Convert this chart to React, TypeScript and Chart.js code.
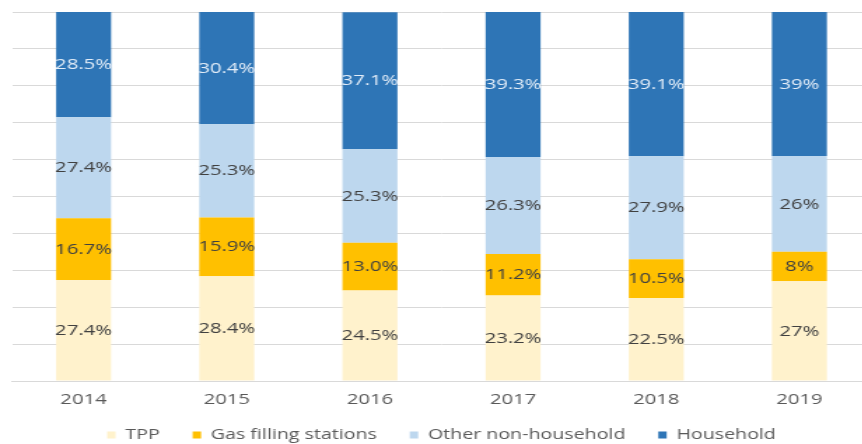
import React, { useEffect, useRef } from "react";
import { Chart, registerables } from "chart.js";

Chart.register(...registerables);

const years = ["2014", "2015", "2016", "2017", "2018", "2019"];
const seriesNames = ["TPP", "Gas filling stations", "Other non-household", "Household"];
const tpp = [27.4, 28.4, 24.5, 23.2, 22.5, 27];
const gasStations = [16.7, 15.9, 13.0, 11.2, 10.5, 8];
const otherNonHousehold = [27.4, 25.3, 25.3, 26.3, 27.9, 26];
const household = [28.5, 30.4, 37.1, 39.3, 39.1, 39];
const labelDecimals = [1, 1, 1, 1, 1, 0];
const yMin = 0;
const yMax = 100;
const yStep = 10;

const seriesColors = ["#FFF2CC", "#FFC000", "#BDD7EE", "#2E75B6"];
const labelColors = ["#404040", "#404040", "#404040", "#E3EDF8"];

const SX = 1.4;
const CANVAS_W = 630;
const CANVAS_H = 444;
const FONT = '"Open Sans", "DejaVu Sans", sans-serif';

const valueLabels = {
  id: "valueLabels",
  afterDatasetsDraw(chart: any) {
    const ctx = chart.ctx;
    ctx.save();
    ctx.font = `14.5px ${FONT}`;
    ctx.textAlign = "center";
    ctx.textBaseline = "middle";
    chart.data.datasets.forEach((ds: any, di: number) => {
      const meta = chart.getDatasetMeta(di);
      meta.data.forEach((bar: any, i: number) => {
        const v = ds.data[i] as number;
        const { x, y, base } = bar.getProps(["x", "y", "base"], true);
        ctx.fillStyle = labelColors[di];
        ctx.fillText(v.toFixed(labelDecimals[i]) + "%", x, (y + base) / 2 + 0.5);
      });
    });
    ctx.restore();
  },
};

export default function App() {
  const ref = useRef<HTMLCanvasElement | null>(null);

  useEffect(() => {
    if (!ref.current) return;
    const seriesData = [tpp, gasStations, otherNonHousehold, household];
    const chart = new Chart(ref.current, {
      type: "bar",
      data: {
        labels: years,
        datasets: seriesNames.map((name, i) => ({
          label: name,
          data: seriesData[i],
          backgroundColor: seriesColors[i],
          borderWidth: 0,
          barPercentage: 1,
          categoryPercentage: 0.384,
        })),
      },
      options: {
        animation: false,
        responsive: false,
        devicePixelRatio: 1,
        layout: {
          padding: { top: 12, left: 12 / SX, right: CANVAS_W - 871 / SX, bottom: -8 },
        },
        plugins: {
          tooltip: { enabled: false },
          legend: {
            position: "bottom",
            labels: {
              color: "#595959",
              font: { family: FONT, size: 14 },
              boxWidth: 6,
              boxHeight: 7,
              padding: 23.5,
            },
          },
        },
        scales: {
          x: {
            stacked: true,
            grid: { display: false, drawTicks: false },
            border: { display: true, color: "#D9D9D9" },
            ticks: {
              color: "#595959",
              font: { family: FONT, size: 14.5 },
              padding: 10.3,
            },
            afterFit(scale: any) {
              scale.height = 23.5;
            },
          },
          y: {
            stacked: true,
            min: yMin,
            max: yMax,
            ticks: { display: false, stepSize: yStep },
            grid: { color: "#D9D9D9", drawTicks: false, lineWidth: 1 },
            border: { display: false },
          },
        },
      },
      plugins: [valueLabels],
    });
    return () => chart.destroy();
  }, []);

  return (
    <div
      style={{
        position: "absolute",
        left: 0,
        top: 0,
        width: 862,
        height: 444,
        overflow: "hidden",
        background: "#fff",
      }}
    >
      <canvas
        ref={ref}
        width={CANVAS_W}
        height={CANVAS_H}
        style={{ width: `${CANVAS_W * SX}px`, height: `${CANVAS_H}px`, display: "block" }}
      />
    </div>
  );
}
